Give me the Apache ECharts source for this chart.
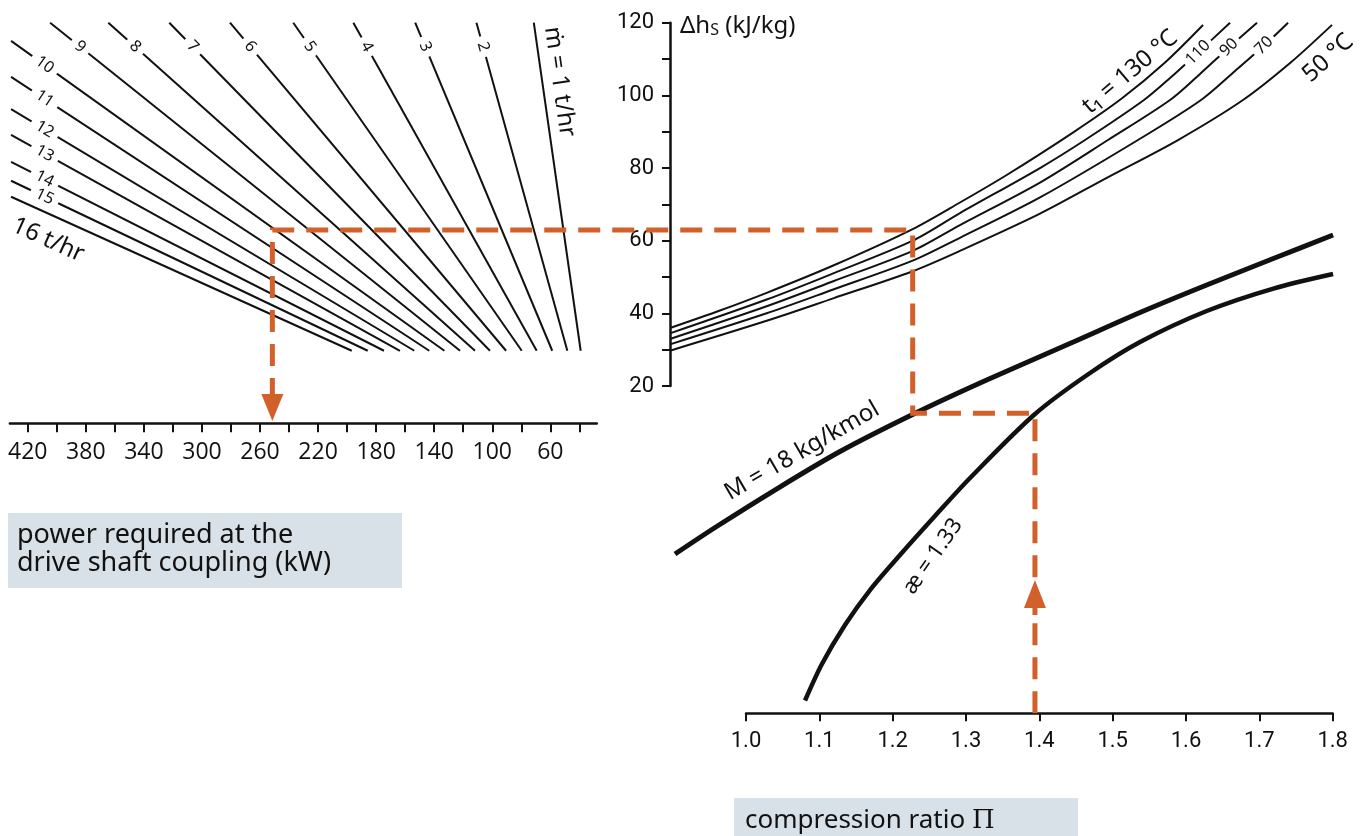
<!DOCTYPE html>
<html><head><meta charset="utf-8">
<script src="https://cdn.jsdelivr.net/npm/echarts@6/dist/echarts.min.js"></script>
<style>html,body{margin:0;padding:0;background:#fff}#c{width:1369px;height:836px}</style>
</head><body><div id="c"></div>
<script>
// ---------------- data ----------------
// Fan of mass-flow lines (power P in kW vs isentropic enthalpy rise Δh_s in kJ/kg)
const massFlows      = [1,2,3,4,5,6,7,8,9,10,11,12,13,14,15,16];
const fanTopPower    = [71.4,110.9,153.1,195.7,237.1,280.7,322.5,364.5,404.6,431.5,431.5,431.5,431.5,431.5,431.5,431.5];
const fanTopDh       = [120,120,120,120,120,120,120,120,120,115.0,105.1,96.2,89.1,81.7,76.5,72.1];
const fanBottomPower = [39.1,48.3,58.7,69.4,79.7,90.5,101.6,111.9,122.2,133.0,143.4,153.7,163.6,174.6,185.8,196.8];
const fanBottomDh    = [29.7,29.7,29.7,29.7,29.7,29.7,29.7,29.7,29.7,29.7,29.7,29.7,29.7,29.7,29.7,29.7];
const powerTicks  = [40,60,80,100,120,140,160,180,200,220,240,260,280,300,320,340,360,380,400,420];
const powerLabels = [60,100,140,180,220,260,300,340,380,420];

// Δh_s curves for inlet temperature t1 (x: reduced compression-ratio scale, y: Δh_s)
const t1Temps = [130,110,90,70,50];
const curve130 = [[0.8964,35.96],[0.9645,40.78],[1.0282,45.65],[1.1190,53.17],[1.2273,63.2],[1.2918,70.51],[1.3555,78.08],[1.4463,89.83],[1.5123,99.13],[1.5714,109.04],[1.6232,119.36]];
const curve110 = [[0.8964,34.5],[1.0282,43.8],[1.1190,51.0],[1.2273,60.0],[1.2918,67.6],[1.4009,80.0],[1.4623,87.71],[1.5427,98.72],[1.5782,104.77],[1.6164,111.8],[1.6600,120]];
const curve90  = [[0.8964,32.95],[1.0282,41.95],[1.1190,48.83],[1.2273,57.2],[1.2918,64.3],[1.4009,76.0],[1.4936,87.71],[1.5782,98.72],[1.6191,105.9],[1.6586,113.2],[1.6968,120]];
const curve70  = [[0.8964,31.47],[1.0282,40.02],[1.1190,46.57],[1.2273,54.5],[1.2918,60.8],[1.4009,71.9],[1.5345,87.71],[1.6205,98.72],[1.6668,106.7],[1.7064,113.7],[1.7391,120]];
const curve50  = [[0.8964,29.72],[1.0282,37.94],[1.1190,44.13],[1.2273,51.6],[1.2918,57.2],[1.4009,67.44],[1.4919,77.3],[1.5891,87.71],[1.6777,98.72],[1.7419,108.9],[1.7991,119.4]];

// lower quadrant: compression ratio Π vs auxiliary scale
const curveM     = [[0.9032,-26.24],[0.9600,-18.67],[1.0372,-8.90],[1.1282,1.97],[1.2328,12.71],[1.3282,21.65],[1.4463,32.11],[1.5373,40.23],[1.6282,47.80],[1.7191,55.09],[1.8005,61.56]];
const curveKappa = [[1.0805,-66.56],[1.1036,-56.51],[1.1350,-45.78],[1.1691,-36.15],[1.2100,-26.51],[1.2577,-15.78],[1.3055,-5.32],[1.3941,12.29],[1.4691,23.58],[1.5373,32.11],[1.6282,40.64],[1.7191,46.83],[1.8005,50.83]];

// worked example (orange path)
const examplePi = 1.394, exampleAux = 12.49, exampleReduced = 1.2273, exampleDh = 62.94, examplePower = 251.5;

// ---------------- styling ----------------
const INK = '#111', ORANGE = '#d2602a', BOX = '#d9e1e8';
const TXT = '"Noto Sans","Open Sans",sans-serif';
const NUM = 'Roboto,"Noto Sans",sans-serif';

const series = [];
massFlows.forEach((m,i)=>{
  series.push({type:'line', xAxisIndex:0, yAxisIndex:0, silent:true, clip:false, symbol:'none',
    lineStyle:{color:INK, width:2}, data:[[fanTopPower[i],fanTopDh[i]],[fanBottomPower[i],fanBottomDh[i]]]});
});
[curve130,curve110,curve90,curve70,curve50].forEach(c=>{
  series.push({type:'line', xAxisIndex:1, yAxisIndex:1, silent:true, clip:false, symbol:'none', smooth:0.3,
    lineStyle:{color:INK, width:2}, data:c});
});
series.push({type:'line', xAxisIndex:3, yAxisIndex:3, silent:true, clip:false, symbol:'none', smooth:0.3,
  lineStyle:{color:INK, width:5}, data:curveM});
series.push({type:'line', xAxisIndex:3, yAxisIndex:3, silent:true, clip:false, symbol:'none', smooth:0.3,
  lineStyle:{color:INK, width:4.5}, data:curveKappa});

const option = {
  animation:false,
  grid:[
    {left:9.9, top:22.7, width:586.9, height:400.6, outerBoundsMode:'none', containLabel:false},
    {left:670, top:22.7, width:662.7, height:363.3, outerBoundsMode:'none', containLabel:false},
    {left:746, top:22.7, width:586.7, height:690.6, outerBoundsMode:'none', containLabel:false},
    {left:670, top:22.7, width:662.7, height:690.6, outerBoundsMode:'none', containLabel:false}
  ],
  xAxis:[
    {gridIndex:0, type:'value', inverse:true, min:28, max:432.3, position:'bottom',
      axisLine:{show:true, onZero:false, lineStyle:{color:INK, width:2.5}},
      axisTick:{show:true, inside:false, length:9, customValues:powerTicks, lineStyle:{color:INK, width:2}},
      axisLabel:{show:true, customValues:powerLabels, margin:18, fontSize:23, fontFamily:'"Open Sans",sans-serif', color:INK},
      splitLine:{show:false}},
    {gridIndex:1, type:'value', min:0.8964, max:1.8, show:false, splitLine:{show:false}},
    {gridIndex:2, type:'value', min:1.0, max:1.8, interval:0.1, position:'bottom',
      axisLine:{show:true, onZero:false, lineStyle:{color:INK, width:2.5}},
      axisTick:{show:true, inside:false, length:8, lineStyle:{color:INK, width:2}},
      axisLabel:{show:true, margin:17, fontSize:22, fontFamily:NUM, color:INK, formatter:v=>v.toFixed(1)},
      splitLine:{show:false}},
    {gridIndex:3, type:'value', min:0.8964, max:1.8, show:false, splitLine:{show:false}}
  ],
  yAxis:[
    {gridIndex:0, type:'value', min:9.73, max:120, show:false, splitLine:{show:false}},
    {gridIndex:1, type:'value', min:20, max:120, interval:10, position:'left',
      axisLine:{show:true, onZero:false, lineStyle:{color:INK, width:2.5}},
      axisTick:{show:true, inside:false, length:8, lineStyle:{color:INK, width:2}},
      axisLabel:{show:true, margin:16, fontSize:22, fontFamily:NUM, color:INK,
        formatter:v=>(Math.round(v)%20===0?String(Math.round(v)):'')},
      splitLine:{show:false}},
    {gridIndex:2, type:'value', min:-70.08, max:120, show:false, splitLine:{show:false}},
    {gridIndex:3, type:'value', min:-70.08, max:120, show:false, splitLine:{show:false}}
  ],
  series
};

const chart = echarts.init(document.getElementById('c'), null, {renderer:'canvas'});
chart.setOption(option);

const toPx = (g,v)=>chart.convertToPixel({gridIndex:g}, v);
const deg = d=>d*Math.PI/180;
const G = [];
// rot: degrees, positive = counter-clockwise (text rising to the right)
function label(g, v, text, rot, size, extra){
  const p = toPx(g, v);
  G.push({type:'text', x:p[0], y:p[1], rotation:deg(rot), z:60, silent:true,
    style:Object.assign({text, fill:INK, fontSize:size, fontFamily:TXT, align:'center', verticalAlign:'middle'}, extra||{})});
}

// fan numbers (2..15) sitting in gaps of the lines
const fanLabelDh = 113.4, fanLabelPower = 408.4;
massFlows.forEach((m,i)=>{
  if (m<2 || m>15) return;
  const top = toPx(0,[fanTopPower[i],fanTopDh[i]]), bot = toPx(0,[fanBottomPower[i],fanBottomDh[i]]);
  const t = m<=9 ? (fanTopDh[i]-fanLabelDh)/(fanTopDh[i]-fanBottomDh[i])
                 : (fanTopPower[i]-fanLabelPower)/(fanTopPower[i]-fanBottomPower[i]);
  const x = top[0]+t*(bot[0]-top[0]), y = top[1]+t*(bot[1]-top[1]);
  const ang = Math.atan2(bot[1]-top[1], bot[0]-top[0]);
  G.push({type:'text', x, y, rotation:-ang, z:60, silent:true,
    style:{text:String(m), fill:INK, fontSize:16, fontFamily:TXT, align:'center', verticalAlign:'middle',
      backgroundColor:'#fff', padding:[0,6], lineHeight:13}});
});
label(0,[53.7,103.75],'ṁ = 1 t/hr',-81.9,24);
label(0,[406.0,60.18],'16 t/hr',-24.3,24);

// temperature labels
const gapStyle = {backgroundColor:'#fff',padding:[0,4],lineHeight:12};
label(1,[1.5236,106.42],'t₁ = 130 °C',40,24);
label(1,[1.6164,111.8],'110',45,16,gapStyle);
label(1,[1.6586,113.2],'90',45,16,gapStyle);
label(1,[1.7064,113.7],'70',45,16,gapStyle);
label(1,[1.7937,110.28],'50 °C',42,24);
label(3,[1.0764,2.11],'M = 18 kg/kmol',30,24);
label(3,[1.2550,-26.9],'æ = 1.33',55,22);

// axis name Δh_s
G.push({type:'text', x:680, y:26, z:60, silent:true,
  style:{text:'Δh{s|S} (kJ/kg)', fill:INK, fontSize:24, fontFamily:TXT, align:'left', verticalAlign:'middle',
    rich:{s:{fontSize:16, fontFamily:TXT, fill:INK, verticalAlign:'bottom', lineHeight:15}}}});

// caption boxes
G.push({type:'rect', shape:{x:8,y:513,width:394,height:75}, style:{fill:BOX}, z:1, silent:true});
G.push({type:'text', x:17, y:549, z:2, silent:true,
  style:{text:'power required at the\ndrive shaft coupling (kW)', fill:INK, fontSize:27, lineHeight:28, fontFamily:TXT, align:'left', verticalAlign:'middle'}});
G.push({type:'rect', shape:{x:734,y:798,width:344,height:38}, style:{fill:BOX}, z:1, silent:true});
G.push({type:'text', x:745, y:821, z:2, silent:true,
  style:{text:'compression ratio {p|Π}', fill:INK, fontSize:26, fontFamily:TXT, align:'left', verticalAlign:'middle',
    rich:{p:{fontSize:26, fontFamily:'"DejaVu Serif",serif', fill:INK}}}});

// worked example: dashed orange path with arrows
const pathPts = [
  toPx(2,[examplePi,-70.08]), toPx(2,[examplePi,exampleAux]), toPx(2,[exampleReduced,exampleAux]),
  toPx(1,[exampleReduced,exampleDh]), toPx(0,[examplePower,exampleDh]), toPx(0,[examplePower,17.5])
];
G.push({type:'polyline', shape:{points:pathPts}, z:40, silent:true,
  style:{stroke:ORANGE, lineWidth:5, lineDash:[22,12], fill:null}});
const downTip = toPx(0,[examplePower,10.37]);
G.push({type:'polygon', z:41, silent:true, shape:{points:[[downTip[0]-11,downTip[1]-27],[downTip[0]+11,downTip[1]-27],downTip]}, style:{fill:ORANGE}});
const upTip = toPx(2,[examplePi,-33.39]);
G.push({type:'rect', z:41, silent:true, shape:{x:upTip[0]-6,y:upTip[1]+10,width:12,height:22}, style:{fill:'#fff'}});
G.push({type:'polygon', z:42, silent:true, shape:{points:[[upTip[0]-11,upTip[1]+28],[upTip[0]+11,upTip[1]+28],upTip]}, style:{fill:ORANGE}});
G.push({type:'rect', z:42, silent:true, shape:{x:upTip[0]-2.5,y:upTip[1]+27,width:5,height:8}, style:{fill:ORANGE}});

chart.setOption({graphic:G});
</script></body></html>
